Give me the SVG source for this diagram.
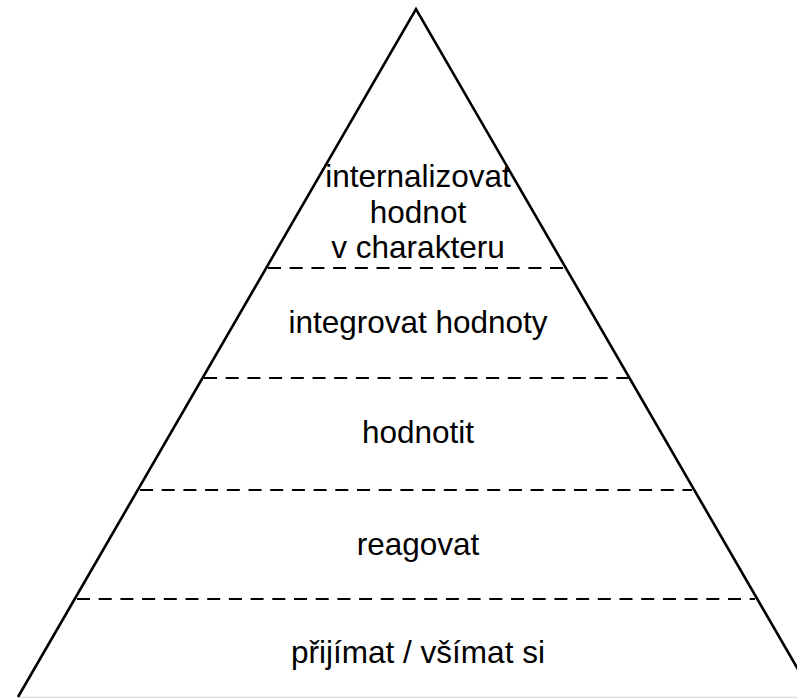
<svg xmlns="http://www.w3.org/2000/svg" width="797" height="698" viewBox="0 0 797 698">
<style>
.edge{fill:none;stroke:#000;stroke-width:2.6;stroke-linejoin:miter}
.dash{stroke:#000;stroke-width:2;stroke-dasharray:13 8.7}
.lbl{font-family:"Liberation Sans",Arial,sans-serif;font-size:31.5px;fill:#000;text-anchor:middle}
</style>
<rect width="797" height="698" fill="#fff"/>
<line x1="20" y1="697.5" x2="797" y2="697.5" stroke="#dcdcdc" stroke-width="1.5"/>
<g id="pyramid">
<path class="edge" d="M18,697 L416,9 L814,697"/>
</g>
<g id="connectors">
<line class="dash" x1="268" y1="268" x2="565" y2="268"/>
<line class="dash" x1="204" y1="378" x2="629" y2="378"/>
<line class="dash" x1="140" y1="490" x2="692" y2="490"/>
<line class="dash" x1="77" y1="599" x2="755" y2="599"/>
</g>
<g id="level5">
<text class="lbl" x="418" y="187">internalizovat</text>
<text class="lbl" x="418" y="223">hodnot</text>
<text class="lbl" x="418" y="258">v charakteru</text>
</g>
<g id="level4"><text class="lbl" x="418" y="333">integrovat hodnoty</text></g>
<g id="level3"><text class="lbl" x="418" y="443">hodnotit</text></g>
<g id="level2"><text class="lbl" x="418" y="555">reagovat</text></g>
<g id="level1"><text class="lbl" x="418" y="663">přijímat / všímat si</text></g>
</svg>
